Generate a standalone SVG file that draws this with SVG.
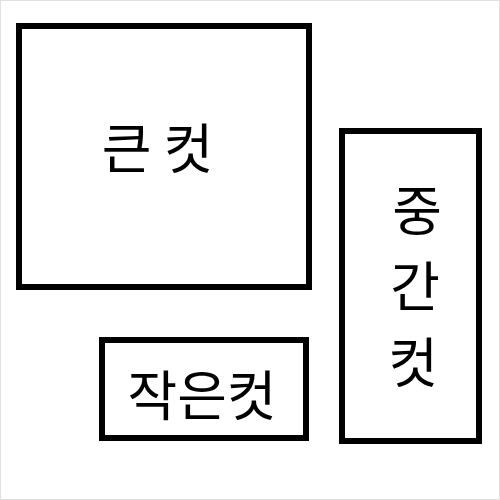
<svg xmlns="http://www.w3.org/2000/svg" width="500" height="500" viewBox="0 0 500 500">
<style>
.frame{fill:#fff;stroke:#000;stroke-width:6}
.t{font-family:"Noto Sans CJK KR","Noto Sans CJK SC",sans-serif;font-size:54px;fill:#000;text-anchor:middle}
</style>
<rect x="0" y="0" width="500" height="500" fill="#fff"/>
<rect x="0.5" y="0.5" width="499" height="499" fill="none" stroke="#e0e0e0" stroke-width="1"/>
<g id="big">
<rect class="frame" x="19" y="26" width="290" height="261"/>
<text class="t" x="157.5" y="169">큰 컷</text>
</g>
<g id="medium">
<rect class="frame" x="342" y="131" width="137" height="310"/>
<text class="t" x="417" y="231">중</text>
<text class="t" x="415" y="307">간</text>
<text class="t" x="413" y="383">컷</text>
</g>
<g id="small">
<rect class="frame" x="102" y="340" width="204" height="98"/>
<text class="t" x="202" y="416">작은컷</text>
</g>
<g id="connectors"/>
</svg>
